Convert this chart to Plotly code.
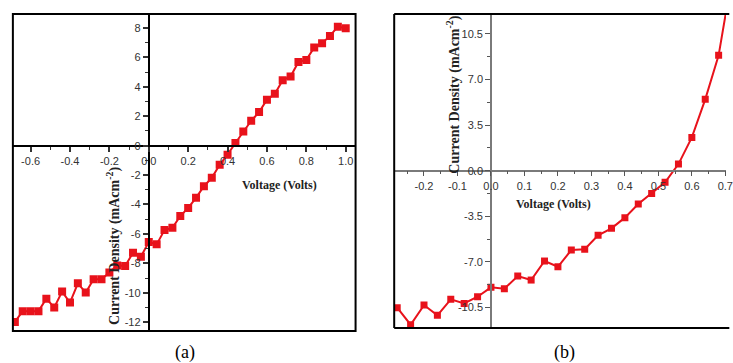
import plotly.graph_objects as go

# ---------------- data ----------------
volt_a = [-0.68, -0.64, -0.60, -0.56, -0.52, -0.48, -0.44, -0.40, -0.36, -0.32, -0.28,
          -0.24, -0.20, -0.16, -0.12, -0.08, -0.04, 0.00, 0.04, 0.08, 0.12, 0.16,
          0.20, 0.24, 0.28, 0.32, 0.36, 0.40, 0.44, 0.48, 0.52, 0.56, 0.60, 0.64,
          0.68, 0.72, 0.76, 0.80, 0.84, 0.88, 0.92, 0.96, 1.00]
current_a = [-11.98, -11.25, -11.25, -11.25, -10.40, -11.00, -9.92, -10.67, -9.36, -9.99, -9.08,
             -9.08, -8.63, -8.14, -8.18, -7.28, -7.55, -6.55, -6.71, -5.74, -5.58, -4.79,
             -4.23, -3.55, -2.76, -2.19, -1.30, -0.61, 0.18, 0.97, 1.69, 2.28, 3.12, 3.53,
             4.45, 4.70, 5.69, 5.83, 6.67, 6.96, 7.46, 8.09, 7.98]

volt_b = [-0.28, -0.24, -0.20, -0.16, -0.12, -0.08, -0.04, 0.00, 0.04, 0.08, 0.12, 0.16,
          0.20, 0.24, 0.28, 0.32, 0.36, 0.40, 0.44, 0.48, 0.52, 0.56, 0.60, 0.64, 0.68, 0.72]
current_b = [-10.51, -11.82, -10.31, -11.10, -9.87, -10.18, -9.67, -8.95, -9.06, -8.08, -8.39, -6.93,
             -7.37, -6.09, -6.03, -4.96, -4.42, -3.60, -2.56, -1.74, -0.89, 0.51, 2.56, 5.48, 8.86, 14.9]

xticks_a = [-0.6, -0.4, -0.2, 0.0, 0.2, 0.4, 0.6, 0.8, 1.0]
xticklabels_a = ["-0.6", "-0.4", "-0.2", "0 0", "0.2", "0.4", "0.6", "0.8", "1.0"]
yticks_a = [8, 6, 4, 2, 0, -2, -4, -6, -8, -10, -12]
yticklabels_a = ["8", "6", "4", "2", "0", "-2", "-4", "-6", "-8", "-10", "-12"]

xticks_b = [-0.2, -0.1, 0.0, 0.1, 0.2, 0.3, 0.4, 0.5, 0.6, 0.7]
xticklabels_b = ["-0.2", "-0.1", "0.0", "0.1", "0.2", "0.3", "0.4", "0.5", "0.6", "0.7"]
yticks_b = [10.5, 7.0, 3.5, 0.0, -3.5, -7.0, -10.5]
yticklabels_b = ["10.5", "7.0", "3.5", "0.0", "-3.5", "-7.0", "-10.5"]

y_title = "Current Density (mAcm<sup>-2</sup>)"
x_title = "Voltage (Volts)"

# ---------------- layout geometry ----------------
W, H = 733, 363
XR_A = [-0.69, 1.05]
YR_A = [-12.6, 8.95]
XR_B = [-0.289, 0.702]
YR_B = [-12.07, 12.03]

xdom_a = [13 / W, 359 / W]
ydom_a = [1 - 331 / H, 1 - 14 / H]
xdom_b = [398 / W, 1.0]
ydom_b = [1 - 328 / H, 1 - 14 / H]


def zero_pos(rng, dom):
    return dom[0] + (0 - rng[0]) / (rng[1] - rng[0]) * (dom[1] - dom[0])


RED = "#e8121b"
tickfont = dict(family="Liberation Sans, Arial, sans-serif", size=11, color="#333333")
xtitlefont = dict(family="Liberation Serif, Times New Roman, serif", size=12,
                  color="#222222", weight="bold")
ytitlefont = dict(family="Liberation Serif, Times New Roman, serif", size=14,
                  color="#222222", weight="bold")

fig = go.Figure()
fig.add_trace(go.Scatter(x=volt_a, y=current_a, mode="lines+markers",
                         line=dict(color=RED, width=2),
                         marker=dict(symbol="square", size=8, color=RED),
                         xaxis="x", yaxis="y", showlegend=False))
fig.add_trace(go.Scatter(x=volt_b, y=current_b, mode="lines+markers",
                         line=dict(color=RED, width=2),
                         marker=dict(symbol="square", size=7, color=RED),
                         xaxis="x2", yaxis="y2", showlegend=False))

fig.update_layout(
    width=W, height=H,
    margin=dict(l=0, r=0, t=0, b=0),
    paper_bgcolor="white", plot_bgcolor="white",
    xaxis=dict(domain=xdom_a, range=XR_A, anchor="free",
               position=zero_pos(YR_A, ydom_a),
               showline=True, linecolor="black", linewidth=2,
               ticks="outside", ticklen=5, tickwidth=1.5, tickcolor="#333333",
               tickmode="array", tickvals=xticks_a, ticktext=xticklabels_a,
               minor=dict(ticks="outside", ticklen=3, tickwidth=1.2, tickcolor="#333333",
                          tick0=0, dtick=0.1),
               showgrid=False, zeroline=False, tickfont=tickfont, layer="above traces"),
    yaxis=dict(domain=ydom_a, range=YR_A, anchor="free",
               position=zero_pos(XR_A, xdom_a),
               showline=True, linecolor="black", linewidth=2,
               ticks="outside", ticklen=5, tickwidth=1.5, tickcolor="#333333",
               tickmode="array", tickvals=yticks_a, ticktext=yticklabels_a,
               minor=dict(ticks="outside", ticklen=3, tickwidth=1.2, tickcolor="#333333",
                          tick0=0, dtick=1),
               showgrid=False, zeroline=False, tickfont=tickfont, layer="above traces"),
    xaxis2=dict(domain=xdom_b, range=XR_B, anchor="free",
                position=zero_pos(YR_B, ydom_b),
                showline=True, linecolor="#7a7a7a", linewidth=1.5,
                ticks="outside", ticklen=5, tickwidth=1.2, tickcolor="#555555",
                tickmode="array", tickvals=xticks_b, ticktext=xticklabels_b,
                minor=dict(ticks="outside", ticklen=3, tickwidth=1, tickcolor="#555555",
                           tick0=0, dtick=0.05),
                ticklabeloverflow="allow",
                showgrid=False, zeroline=False, tickfont=tickfont, layer="above traces"),
    yaxis2=dict(domain=ydom_b, range=YR_B, anchor="free",
                position=zero_pos(XR_B, xdom_b),
                showline=True, linecolor="#7a7a7a", linewidth=1.5,
                ticks="outside", ticklen=5, tickwidth=1.2, tickcolor="#555555",
                tickmode="array", tickvals=yticks_b, ticktext=yticklabels_b,
                minor=dict(ticks="outside", ticklen=3, tickwidth=1, tickcolor="#555555",
                           tick0=0, dtick=1.75),
                showgrid=False, zeroline=False, tickfont=tickfont, layer="above traces"),
)

# frames
fig.add_shape(type="rect", xref="x domain", yref="y domain", x0=0, x1=1, y0=0, y1=1,
              line=dict(color="black", width=2), layer="above")
for (x0, y0, x1, y1) in [(0, 0, 0, 1), (0, 1, 1.01, 1), (0, 0, 1.01, 0)]:
    fig.add_shape(type="line", xref="x2 domain", yref="y2 domain",
                  x0=x0, y0=y0, x1=x1, y1=y1,
                  line=dict(color="black", width=2), layer="above")

# axis titles
common = dict(xref="paper", yref="paper", showarrow=False, xanchor="center", yanchor="middle")
fig.add_annotation(text=y_title, x=114 / W, y=1 - 246 / H, textangle=-90,
                   font=ytitlefont, **common)
fig.add_annotation(text=x_title, x=282 / W, y=1 - 185 / H, font=xtitlefont, **common)
fig.add_annotation(text=y_title, x=458 / W, y=1 - 95 / H, textangle=-90,
                   font=ytitlefont, **common)
fig.add_annotation(text=x_title, x=559 / W, y=1 - 204 / H, font=xtitlefont, **common)

# captions
capfont = dict(family="Liberation Serif, Times New Roman, serif", size=18, color="black")
fig.add_annotation(text="(a)", x=187 / W, y=1 - 352 / H, font=capfont, **common)
fig.add_annotation(text="(b)", x=570 / W, y=1 - 352 / H, font=capfont, **common)

fig.write_html("out.html", config={"displayModeBar": False},
               post_script="document.body.style.margin='0';document.body.style.overflow='hidden';")
